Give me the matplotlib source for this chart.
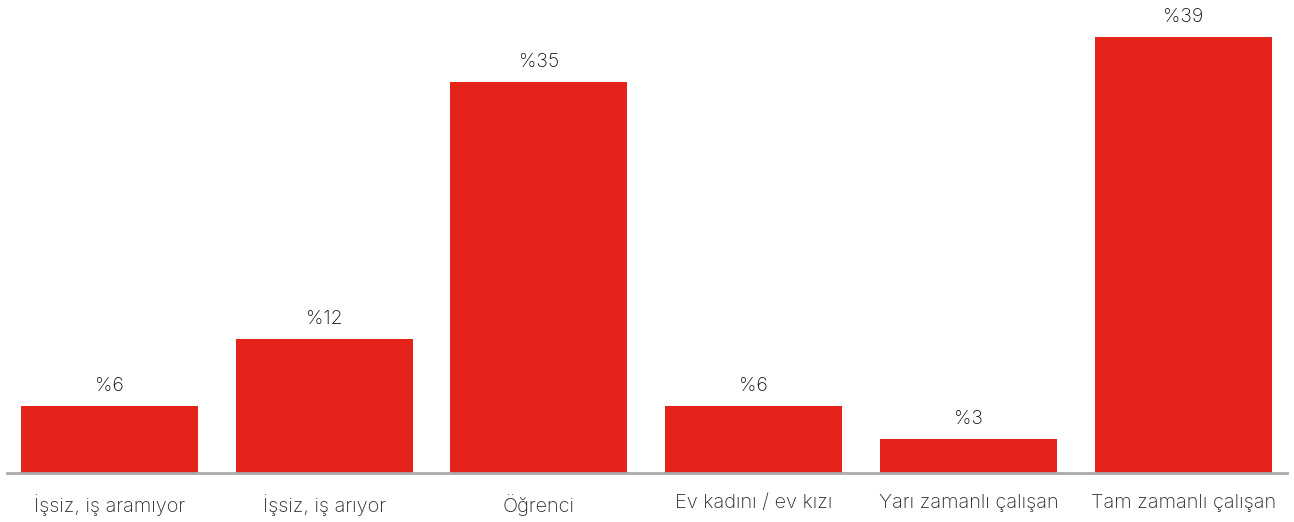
import matplotlib
matplotlib.use("Agg")
import matplotlib.pyplot as plt

categories = ["İşsiz, iş aramıyor", "İşsiz, iş arıyor", "Öğrenci", "Ev kadını / ev kızı",
              "Yarı zamanlı çalışan", "Tam zamanlı çalışan"]
values = [6, 12, 35, 6, 3, 39]
labels = ["%6", "%12", "%35", "%6", "%3", "%39"]

W, H = 1294, 522
fig = plt.figure(figsize=(W / 100, H / 100), dpi=100)
ax = fig.add_axes([7 / W, (H - 473) / H, 1280 / W, 473 / H])

FONT = "Inter"
x = list(range(len(categories)))
ax.bar(x, values, width=0.824, color="#E4231B", zorder=2)
ax.set_xlim(-0.4774, 5.484)
ax.set_ylim(0, 42.3)

for xi, v, lab in zip(x, values, labels):
    ax.annotate(lab, (xi, v), xytext=(0, 8), textcoords="offset points",
                ha="center", va="bottom", fontsize=14, fontfamily=FONT,
                fontweight="light", color="#111111")

ax.set_xticks(x)
ax.set_xticklabels(categories, fontsize=14.4, fontfamily=FONT, fontweight="light", color="#2a2a2a")
ax.tick_params(axis="x", length=0, pad=15)
ax.set_yticks([])
for s in ["top", "right", "left"]:
    ax.spines[s].set_visible(False)
ax.spines["bottom"].set_color("#aaaaaa")
ax.spines["bottom"].set_linewidth(2)

fig.savefig("out.png", dpi=100)
